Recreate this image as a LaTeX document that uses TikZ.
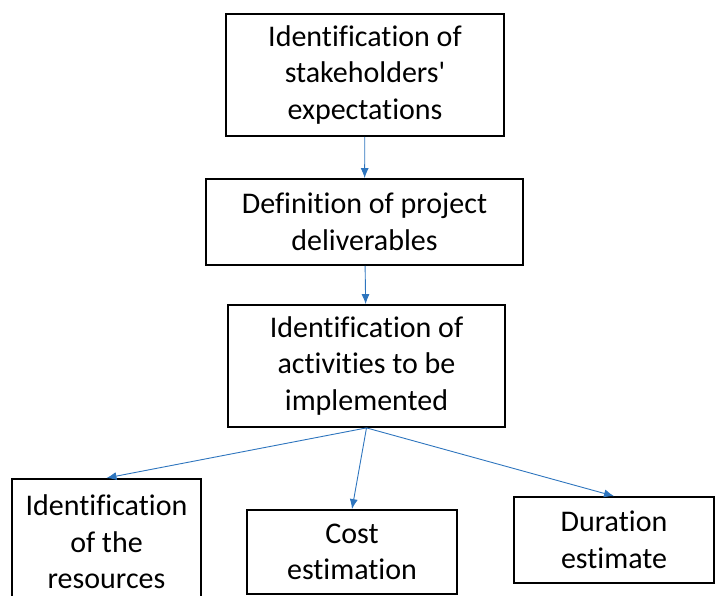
\documentclass[tikz,border=0pt]{standalone}
\usepackage{fontspec}
\setmainfont[Ligatures = NoCommon]{Carlito}
\usepackage{tikz}
\usetikzlibrary{arrows.meta}
\usetikzlibrary{positioning}
\definecolor{arrowblue}{RGB}{46,117,190}
\tikzset{>=latex}
\tikzstyle{box} = [rectangle, draw = black, line width = 1.8pt, align = center, inner sep = 0, font = \fontsize{30}{36.5}\selectfont]
\tikzstyle{link} = [-{Latex[length=10pt,width=8pt]}, draw = arrowblue, line width = 0.9pt]

\begin{document}
\begin{tikzpicture}[x = 1pt, y = -1pt]
\clip (0, 0) rectangle (715, 596);
\node [box, minimum width = 278pt, minimum height = 122pt] (expect) at (365, 75) {Identification of\\stakeholders\textquotesingle\\expectations};
\node [box, minimum width = 317pt, minimum height = 86pt] (deliv) at (364.5, 222) {Definition of project\\deliverables};
\node [box, minimum width = 277pt, minimum height = 122pt] (activ) at (366.5, 366) {Identification of\\activities to be\\implemented};
\node [box, minimum width = 189pt, minimum height = 126pt, anchor = north] (resour) at (106.5, 478) {Identification\\of the\\resources};
\node [box, minimum width = 210pt, minimum height = 84pt] (cost) at (352, 552) {Cost\\estimation};
\node [box, minimum width = 200pt, minimum height = 86pt] (durat) at (614, 540) {Duration\\estimate};
\draw [link] (expect) to (deliv);
\draw [link] (deliv) to (activ);
\draw [link] (activ.south) to (resour.north);
\draw [link] (activ.south) to (cost.north);
\draw [link] (activ.south) to (durat.north);
%\node [draw=none, font=\tiny] at (360, 460) {};
\end{tikzpicture}
\end{document}
